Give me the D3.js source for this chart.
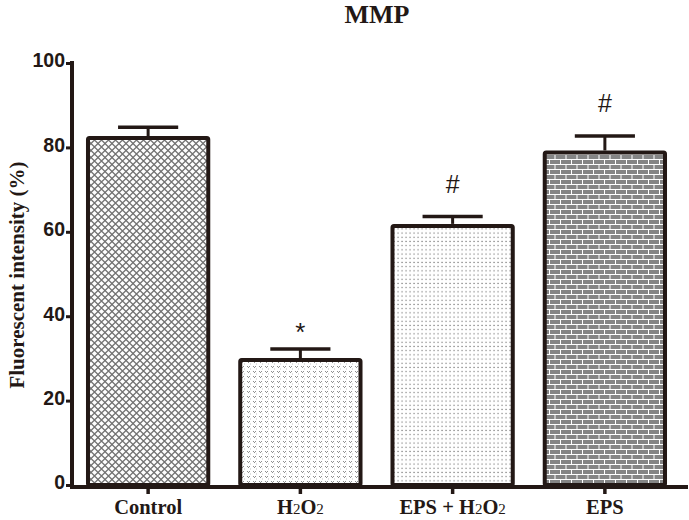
<!DOCTYPE html>
<html><head><meta charset="utf-8">
<script src="https://cdn.jsdelivr.net/npm/d3@7"></script>
<style>body{margin:0;background:#fff}svg{display:block}</style>
</head><body>
<svg id="c" width="689" height="520"></svg>
<script>
const categories = ["Control", "H2O2", "EPS + H2O2", "EPS"];
const values = [82.2, 29.6, 61.4, 78.8];
const errors = [2.6, 2.6, 2.2, 3.9];
const marks = ["", "*", "#", "#"];
const yTicks = [0, 20, 40, 60, 80, 100];
const patterns = ["diamond", "speckle", "dots", "brick"];

const ink = "#231815";
const svg = d3.select("#c");
const defs = svg.append("defs");

// patterns
let p = defs.append("pattern").attr("id","diamond").attr("patternUnits","userSpaceOnUse").attr("width",7).attr("height",7);
p.append("rect").attr("width",7).attr("height",7).attr("fill","#737373");
[[3.5,3.5],[0,0],[7,0],[0,7],[7,7]].forEach(([cx,cy])=>{
  p.append("path").attr("d",`M${cx},${cy-2.6}L${cx+2.6},${cy}L${cx},${cy+2.6}L${cx-2.6},${cy}Z`).attr("fill","#fff");
});
p = defs.append("pattern").attr("id","speckle").attr("patternUnits","userSpaceOnUse").attr("width",6).attr("height",5);
p.append("rect").attr("width",6).attr("height",5).attr("fill","#fff");
p.append("path").attr("d","M1,1h1v1h-1zM3,1h1v1h-1zM2,2h1v1h-1z").attr("fill","#8f8f8f");
p.append("path").attr("d","M4,3.5h1v1h-1z").attr("fill","#c0c0c0");
p = defs.append("pattern").attr("id","dots").attr("patternUnits","userSpaceOnUse").attr("width",4).attr("height",4.2);
p.append("rect").attr("width",4).attr("height",4.2).attr("fill","#fff");
p.append("rect").attr("x",1.5).attr("y",1.5).attr("width",1.1).attr("height",1.1).attr("fill","#666");
p = defs.append("pattern").attr("id","brick").attr("patternUnits","userSpaceOnUse").attr("width",11).attr("height",10);
p.append("rect").attr("width",11).attr("height",10).attr("fill","#fff");
p.append("rect").attr("x",0).attr("y",0).attr("width",10).attr("height",4).attr("fill","#858585");
p.append("rect").attr("x",-5.5).attr("y",5).attr("width",10).attr("height",4).attr("fill","#858585");
p.append("rect").attr("x",5.5).attr("y",5).attr("width",10).attr("height",4).attr("fill","#858585");

const x = d3.scaleBand().domain(categories).range([72, 681]).paddingInner(0.21).paddingOuter(0.105);
const y = d3.scaleLinear().domain([0, 100]).range([485, 63]);

// bars
const g = svg.append("g");
categories.forEach((c, i) => {
  const x0 = x(c), w = x.bandwidth();
  g.append("rect").attr("x", x0).attr("y", y(values[i])).attr("width", w).attr("height", y(0) - y(values[i]))
    .attr("fill", `url(#${patterns[i]})`).attr("stroke", ink).attr("stroke-width", 4).attr("rx", 1.5);
  const cx = x0 + w / 2;
  g.append("line").attr("x1", cx).attr("x2", cx).attr("y1", y(values[i]) - 2).attr("y2", y(values[i] + errors[i]))
    .attr("stroke", ink).attr("stroke-width", 3);
  g.append("line").attr("x1", cx - w / 4).attr("x2", cx + w / 4).attr("y1", y(values[i] + errors[i])).attr("y2", y(values[i] + errors[i]))
    .attr("stroke", ink).attr("stroke-width", 3.5);
  if (marks[i]) {
    const star = marks[i] === "*";
    g.append("text").attr("x", cx).attr("y", y(values[i] + errors[i]) - (star ? 8 : 24))
      .attr("text-anchor", "middle").attr("font-family", "Liberation Sans, Arial, sans-serif")
      .attr("font-size", star ? 26 : 25).attr("fill", ink).text(marks[i]);
  }
});

// y axis
const ya = svg.append("g").attr("transform", "translate(72,0)")
  .call(d3.axisLeft(y).tickValues(yTicks).tickSize(6).tickPadding(1));
ya.select(".domain").remove();
ya.selectAll(".tick line").attr("stroke", ink).attr("stroke-width", 3);
ya.selectAll(".tick text").attr("font-family", "Liberation Sans, Arial, sans-serif").attr("font-weight", "bold")
  .attr("font-size", 19.5).attr("fill", ink).attr("dy", "0.2em");
svg.append("line").attr("x1", 72).attr("x2", 72).attr("y1", 61).attr("y2", 489).attr("stroke", ink).attr("stroke-width", 4);

// x axis
svg.append("line").attr("x1", 70).attr("x2", 688).attr("y1", 487).attr("y2", 487).attr("stroke", ink).attr("stroke-width", 4);
const xa = svg.append("g").attr("transform", "translate(0,489)")
  .call(d3.axisBottom(x).tickSize(5).tickPadding(6).tickFormat(() => ""));
xa.select(".domain").remove();
xa.selectAll(".tick line").attr("stroke", ink).attr("stroke-width", 3.5);

// category labels with subscripts
const labelParts = {
  "Control": [["Control", false]],
  "H2O2": [["H", false], ["2", true], ["O", false], ["2", true]],
  "EPS + H2O2": [["EPS + H", false], ["2", true], ["O", false], ["2", true]],
  "EPS": [["EPS", false]]
};
categories.forEach(c => {
  const t = svg.append("text").attr("x", x(c) + x.bandwidth() / 2).attr("y", 514)
    .attr("text-anchor", "middle").attr("font-family", "Liberation Serif, Times New Roman, serif")
    .attr("font-weight", "bold").attr("font-size", 20.5).attr("fill", ink);
  labelParts[c].forEach(([s, sub]) => {
    t.append("tspan").attr("font-size", sub ? 15 : 20.5).attr("font-weight", sub ? "normal" : "bold").text(s);
  });
});

// title
svg.append("text").attr("x", 377).attr("y", 23).attr("text-anchor", "middle")
  .attr("font-family", "Liberation Serif, Times New Roman, serif").attr("font-weight", "bold")
  .attr("font-size", 26).attr("fill", ink).text("MMP");

// y label
svg.append("text").attr("transform", "translate(24,275) rotate(-90)").attr("text-anchor", "middle")
  .attr("font-family", "Liberation Serif, Times New Roman, serif").attr("font-weight", "bold")
  .attr("font-size", 21).attr("fill", ink).text("Fluorescent intensity (%)");
</script>
</body></html>
